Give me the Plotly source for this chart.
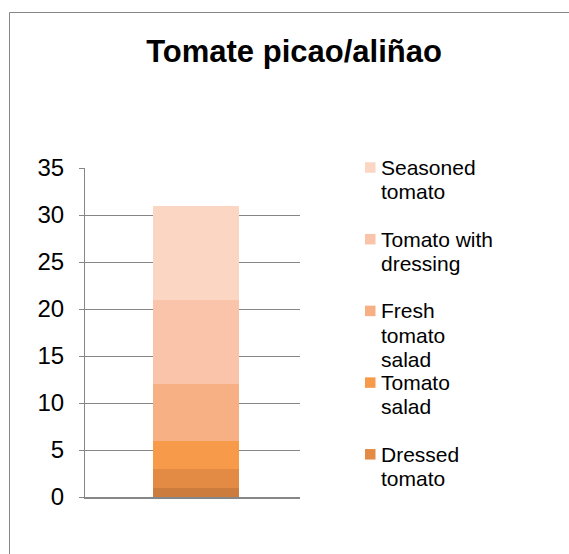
import plotly.graph_objects as go

# Chart data (bottom segment first)
category = ["Tomate picao/aliñao"]
series_names = ["Other", "Dressed tomato", "Tomato salad", "Fresh tomato salad",
                "Tomato with dressing", "Seasoned tomato"]
series_values = [1, 2, 3, 6, 9, 10]
series_colors = ["#CC7D3E", "#E38B45", "#F79A4A", "#F7AF84", "#F9C4A9", "#FAD6C3"]
# Wrapped legend labels, top entry first
legend_labels = [
    ("Seasoned tomato", ["Seasoned", "tomato"]),
    ("Tomato with dressing", ["Tomato with", "dressing"]),
    ("Fresh tomato salad", ["Fresh", "tomato", "salad"]),
    ("Tomato salad", ["Tomato", "salad"]),
    ("Dressed tomato", ["Dressed", "tomato"]),
]
y_ticks = [0, 5, 10, 15, 20, 25, 30, 35]

FONT = "Arial, Liberation Sans, sans-serif"
W, H = 569, 554
L, R, T, B = 85, 269, 168, 57
pw, ph = W - L - R, H - T - B


def px_x(p):
    return (p - L) / pw


def px_y(p):
    return (H - B - p) / ph


fig = go.Figure()
for name, val, col in zip(series_names, series_values, series_colors):
    fig.add_trace(go.Bar(x=category, y=[val], name=name, marker_color=col,
                         marker_line_width=0, showlegend=False))

fig.update_layout(
    width=W, height=H,
    margin=dict(l=L, r=R, t=T, b=B),
    barmode="stack", bargap=0.6,
    plot_bgcolor="white", paper_bgcolor="white",
    font=dict(family=FONT, color="black"),
    title=dict(text="<b>Tomate picao/aliñao</b>", font=dict(size=31, family=FONT, color="black"),
               x=294 / W, xanchor="center", xref="container",
               y=1 - 51 / H, yanchor="middle", yref="container"),
    showlegend=False,
)
fig.update_yaxes(range=[0, 35], tickvals=y_ticks, showgrid=True, gridcolor="#868686",
                 gridwidth=1, showline=True, linecolor="#868686", linewidth=1,
                 ticks="outside", ticklen=5, tickcolor="#868686",
                 tickfont=dict(size=24, family=FONT, color="black"),
                 ticklabelstandoff=10, zeroline=False, fixedrange=True)
fig.update_xaxes(showticklabels=False, showline=True, linecolor="#868686", linewidth=2,
                 ticks="", showgrid=False, zeroline=False, fixedrange=True,
                 range=[-0.516, 0.484])

# Legend: colour square plus wrapped label for each visible series
color_by_name = dict(zip(series_names, series_colors))
first_center, pitch, line_h, sq = 167.5, 71.7, 24.3, 10.5
for i, (name, lines) in enumerate(legend_labels):
    cy = first_center + i * pitch
    fig.add_shape(type="rect", xref="paper", yref="paper",
                  x0=px_x(365), x1=px_x(365 + sq),
                  y0=px_y(cy + sq / 2), y1=px_y(cy - sq / 2),
                  fillcolor=color_by_name[name], line_width=0)
    for j, line in enumerate(lines):
        fig.add_annotation(text=line, xref="paper", yref="paper",
                           x=px_x(379), y=px_y(cy + j * line_h),
                           xanchor="left", yanchor="middle", showarrow=False,
                           font=dict(size=21, family=FONT, color="black"))

# Chart-area frame (extends past the right and bottom edges)
fig.add_shape(type="rect", xref="paper", yref="paper",
              x0=px_x(9.5), x1=px_x(W + 20),
              y0=px_y(H + 20), y1=px_y(12.5),
              line=dict(color="#868686", width=1), fillcolor="rgba(0,0,0,0)", layer="below")

fig.write_html("out.html")
